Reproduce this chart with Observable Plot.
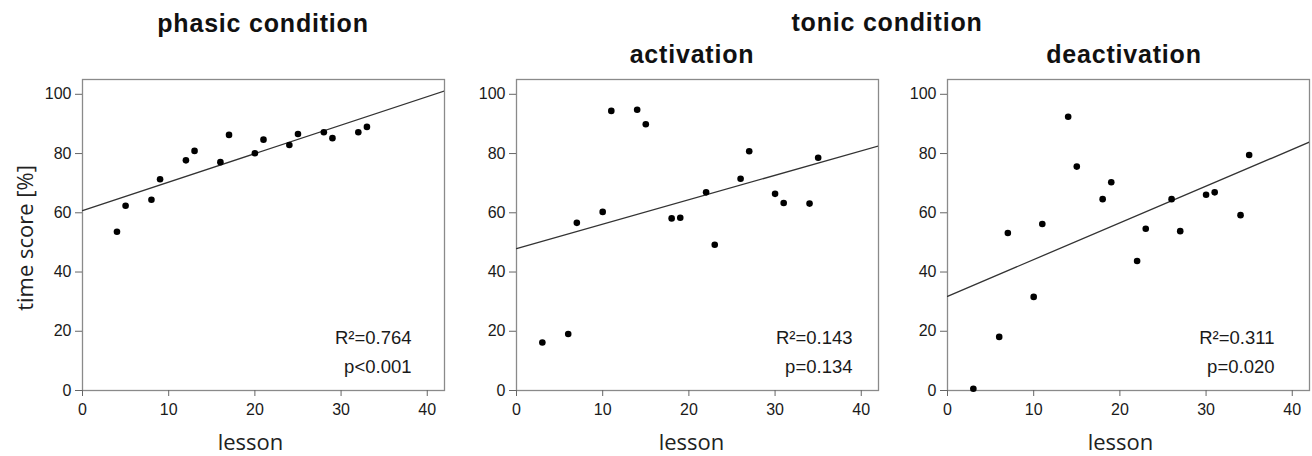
<!DOCTYPE html>
<html>
<head>
<meta charset="utf-8">
<script src="https://cdn.jsdelivr.net/npm/d3@7"></script>
<script src="https://cdn.jsdelivr.net/npm/@observablehq/plot@0.6"></script>
<style>
  body { margin: 0; background: #fff; }
  #wrap { position: relative; width: 1312px; height: 456px; overflow: hidden; background: #fff; }
  .title { position: absolute; font-family: "Liberation Sans", Arial, sans-serif; font-weight: bold;
           font-size: 25px; letter-spacing: 0.8px; line-height: 1; color: #111; white-space: nowrap;
           transform: translateX(-50%); }
  .panel { position: absolute; top: 70px; }
</style>
</head>
<body>
<div id="wrap"></div>
<script>
// ---- data ----
const xDomain = [0, 42];
const yDomain = [0, 105];
const xTicks = [0, 10, 20, 30, 40];
const yTicks = [0, 20, 40, 60, 80, 100];

const phasicLesson = [4, 5, 8, 9, 12, 13, 16, 17, 20, 21, 24, 25, 28, 29, 32, 33];
const phasicScore  = [53.6, 62.4, 64.4, 71.3, 77.7, 80.9, 77.1, 86.3, 80.1, 84.7, 82.9, 86.6, 87.2, 85.2, 87.2, 89.0];

const tonicLesson = [3, 6, 7, 10, 11, 14, 15, 18, 19, 22, 23, 26, 27, 30, 31, 34, 35];
const activationScore   = [16.2, 19.1, 56.6, 60.3, 94.4, 94.8, 89.9, 58.1, 58.3, 66.9, 49.2, 71.5, 80.8, 66.4, 63.3, 63.1, 78.6];
const deactivationScore = [0.6, 18.1, 53.2, 31.6, 56.2, 92.4, 75.6, 64.6, 70.3, 43.7, 54.6, 64.6, 53.8, 66.1, 66.9, 59.2, 79.5];

const statLabels = ["R²=0.764\np<0.001", "R²=0.143\np=0.134", "R²=0.311\np=0.020"];
const panelTitles = ["phasic condition", "activation", "deactivation"];
const groupTitle = "tonic condition";
const xLabel = "lesson";
const yLabel = "time score [%]";

// ---- helpers ----
function fit(xs, ys) {
  const mx = d3.mean(xs), my = d3.mean(ys);
  const b = d3.sum(xs, (x, i) => (x - mx) * (ys[i] - my)) / d3.sum(xs, x => (x - mx) ** 2);
  return {a: my - b * mx, b};
}

function panel({lessons, scores, stat, width, ml, mr, labelDx, statDx, showYLabel}) {
  const pts = lessons.map((x, i) => ({x, y: scores[i]}));
  const {a, b} = fit(lessons, scores);
  const fitLine = xDomain.map(x => ({x, y: a + b * x}));
  const marks = [
    Plot.frame({stroke: "#8a8a8a", strokeWidth: 1.3}),
    Plot.axisY({ticks: yTicks, tickSize: 7, tickPadding: 4, stroke: "#666", fill: "#1a1a1a", fontSize: 16, label: null}),
    Plot.axisX({ticks: xTicks, tickSize: 6, tickPadding: 7, stroke: "#666", fill: "#1a1a1a", fontSize: 16, label: null}),
    Plot.line(fitLine, {x: "x", y: "y", stroke: "#333", strokeWidth: 1.3, clip: true}),
    Plot.dot(pts, {x: "x", y: "y", r: 3.3, fill: "#000"}),
    Plot.text([stat], {text: d => d, frameAnchor: "bottom-right", textAnchor: "end", lineAnchor: "bottom",
      dx: statDx, dy: -18, fontSize: 18.5, lineHeight: 1.55, fill: "#1a1a1a"}),
    Plot.text([xLabel], {text: d => d, frameAnchor: "bottom", textAnchor: "middle", lineAnchor: "bottom", dx: labelDx, dy: 59,
      fontFamily: "Open Sans", fontSize: 22, fill: "#222"})
  ];
  if (showYLabel) {
    marks.push(Plot.text([yLabel], {text: d => d, frameAnchor: "left", textAnchor: "middle", rotate: -90, lineAnchor: "bottom",
      dx: -50, dy: 3, fontFamily: "Open Sans", fontSize: 22, fill: "#222"}));
  }
  return Plot.plot({
    width, height: 386,
    marginLeft: ml, marginRight: mr, marginTop: 9, marginBottom: 66,
    x: {domain: xDomain},
    y: {domain: yDomain},
    style: {fontFamily: "'Liberation Sans', Arial, sans-serif", fontSize: "16px", color: "#222", background: "transparent", overflow: "visible"},
    marks
  });
}

const wrap = document.getElementById("wrap");
const specs = [
  {left: 0,   lessons: phasicLesson, scores: phasicScore,       stat: statLabels[0], width: 446, ml: 82, mr: 2, labelDx: -13, statDx: -33, showYLabel: true},
  {left: 446, lessons: tonicLesson,  scores: activationScore,   stat: statLabels[1], width: 434, ml: 70, mr: 2, labelDx: -6,  statDx: -26},
  {left: 880, lessons: tonicLesson,  scores: deactivationScore, stat: statLabels[2], width: 432, ml: 67, mr: 3, labelDx: -8,  statDx: -35}
];
for (const s of specs) {
  const svg = panel(s);
  svg.classList.add("panel");
  svg.style.left = s.left + "px";
  wrap.appendChild(svg);
}

// titles (baseline ≈ top + 0.8465em for Liberation Sans at line-height 1)
const titles = [
  {text: panelTitles[0], cx: 263, base: 32},
  {text: groupTitle,     cx: 887, base: 31},
  {text: panelTitles[1], cx: 692, base: 63},
  {text: panelTitles[2], cx: 1124, base: 63}
];
for (const t of titles) {
  const d = document.createElement("div");
  d.className = "title";
  d.textContent = t.text;
  d.style.left = t.cx + "px";
  d.style.top = (t.base - 0.8465 * 25) + "px";
  wrap.appendChild(d);
}
</script>
</body>
</html>
